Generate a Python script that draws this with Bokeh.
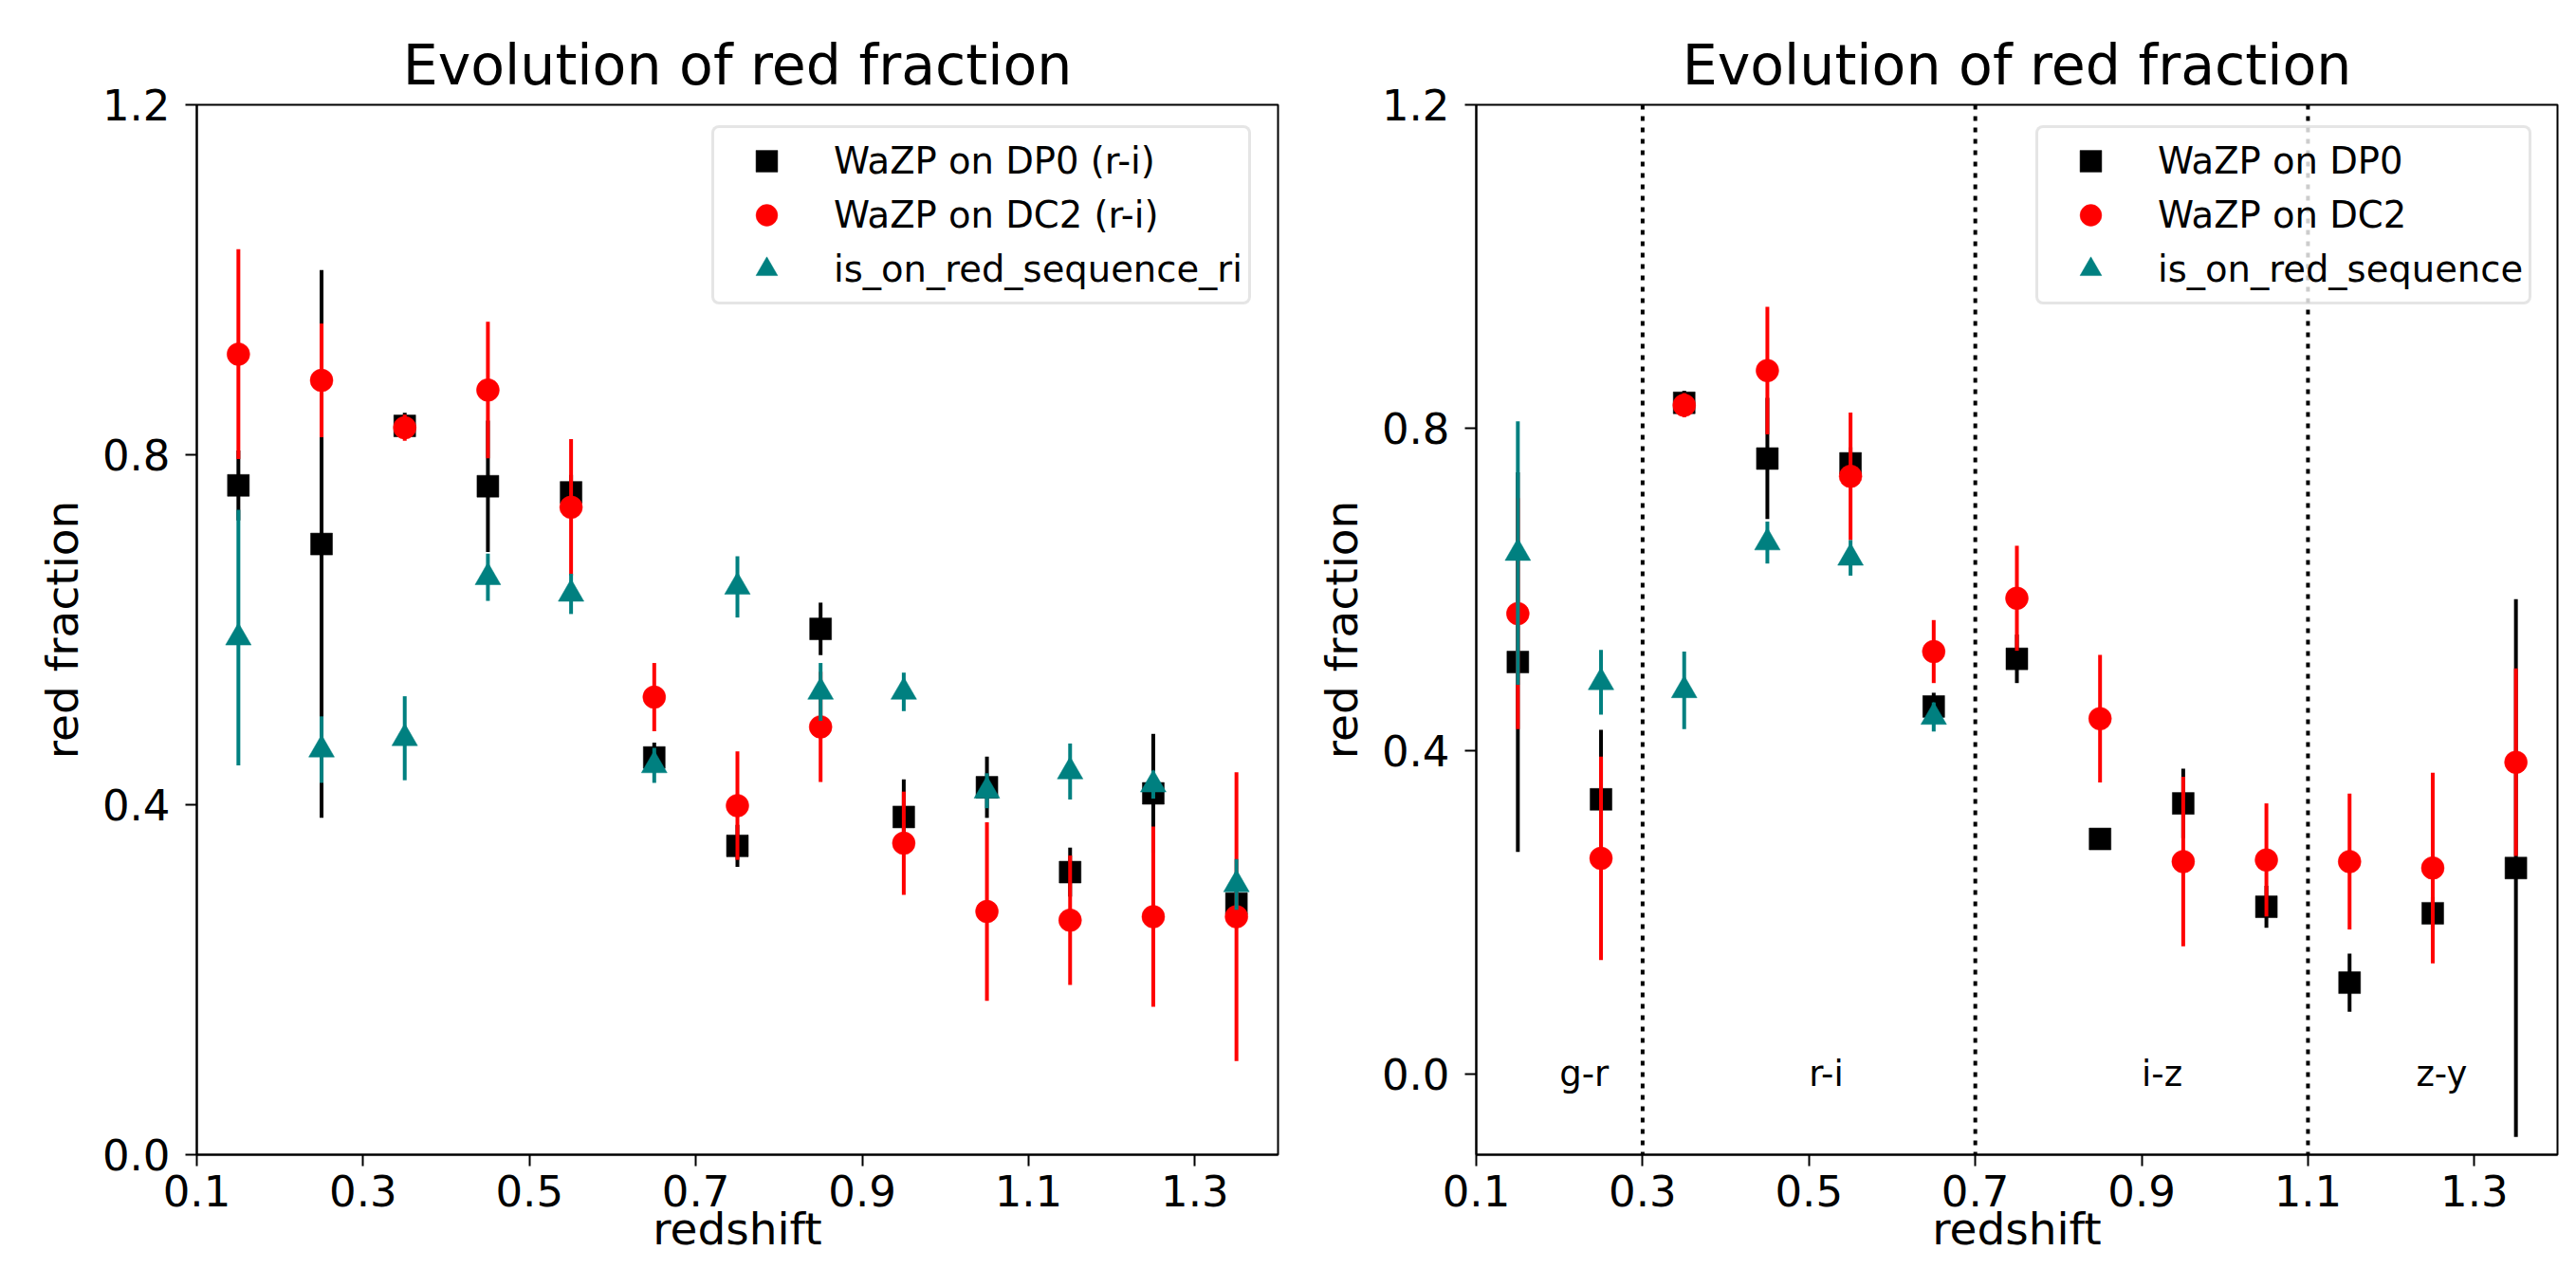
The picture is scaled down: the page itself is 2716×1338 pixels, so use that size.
from bokeh.plotting import figure
from bokeh.layouts import row
from bokeh.models import (Span, FixedTicker, NumeralTickFormatter, Range1d,
                          Legend, LegendItem)
from bokeh.embed import file_html
from bokeh.resources import INLINE
from bokeh.core.properties import value

FONT = "DejaVu Sans"

# ---------------- data ----------------
redshift = [0.15, 0.25, 0.35, 0.45, 0.55, 0.65, 0.75, 0.85, 0.95, 1.05, 1.15, 1.25, 1.35]

# left panel: r-i colour everywhere
dp0_ri = [0.765, 0.698, 0.833, 0.764, 0.757, 0.454, 0.353, 0.601, 0.386, 0.420, 0.323, 0.413, 0.287]
dp0_ri_err = [0.040, 0.313, 0.015, 0.075, 0.020, 0.017, 0.024, 0.030, 0.043, 0.035, 0.028, 0.068, 0.020]
dc2_ri = [0.915, 0.885, 0.831, 0.874, 0.740, 0.523, 0.399, 0.489, 0.356, 0.278, 0.268, 0.272, 0.272]
dc2_ri_err = [0.120, 0.065, 0.015, 0.078, 0.078, 0.039, 0.062, 0.063, 0.059, 0.102, 0.074, 0.103, 0.165]
rs_ri = [0.591, 0.463, 0.476, 0.660, 0.641, 0.445, 0.649, 0.529, 0.529, 0.416, 0.438, 0.423, 0.309]
rs_ri_err = [0.146, 0.038, 0.048, 0.027, 0.023, 0.020, 0.035, 0.033, 0.022, 0.020, 0.032, 0.016, 0.029]

# right panel: colour changes with redshift
dp0 = [0.510, 0.340, 0.831, 0.762, 0.756, 0.455, 0.514, 0.291, 0.335, 0.207, 0.113, 0.199, 0.255]
dp0_err = [0.235, 0.086, 0.015, 0.075, 0.020, 0.017, 0.030, 0.006, 0.043, 0.026, 0.036, 0.020, 0.333]
dc2 = [0.570, 0.267, 0.828, 0.871, 0.740, 0.523, 0.589, 0.440, 0.263, 0.265, 0.263, 0.255, 0.386]
dc2_err = [0.143, 0.126, 0.015, 0.079, 0.079, 0.039, 0.065, 0.079, 0.105, 0.070, 0.084, 0.118, 0.116]
rs_redshift = [0.15, 0.25, 0.35, 0.45, 0.55, 0.65]
rs = [0.645, 0.485, 0.475, 0.658, 0.639, 0.442]
rs_err = [0.163, 0.040, 0.048, 0.026, 0.022, 0.018]

band_edges = [0.3, 0.7, 1.1]
band_labels = ["g-r", "r-i", "i-z", "z-y"]
band_label_x = [0.2, 0.5, 0.9, 1.23]
band_label_y = [0.0, 0.0, 0.0, 0.0]

x_ticks = [0.1, 0.3, 0.5, 0.7, 0.9, 1.1, 1.3]
y_ticks = [0.0, 0.4, 0.8, 1.2]

BLACK = "#000000"
RED = "#ff0000"
TEAL = "#008080"


def style_axes(p):
    p.xgrid.visible = False
    p.ygrid.visible = False
    p.outline_line_color = "black"
    p.outline_line_width = 2
    p.outline_line_alpha = 1
    p.title.text_font = FONT
    p.title.text_font_size = "58.5px"
    p.title.text_font_style = "normal"
    p.title.align = "center"
    p.title.text_color = "black"
    p.title.standoff = 15
    for ax in (p.xaxis[0], p.yaxis[0]):
        ax.axis_line_color = "black"
        ax.axis_line_width = 2
        ax.major_tick_line_color = "black"
        ax.major_tick_line_width = 2
        ax.major_tick_out = 12
        ax.major_tick_in = 0
        ax.minor_tick_line_color = None
        ax.major_label_text_font = FONT
        ax.major_label_text_font_size = "45px"
        ax.major_label_text_color = "black"
        ax.axis_label_text_font = FONT
        ax.axis_label_text_font_size = "47px"
        ax.axis_label_text_font_style = "normal"
        ax.axis_label_text_color = "black"
        ax.formatter = NumeralTickFormatter(format="0.0")
    p.xaxis[0].ticker = FixedTicker(ticks=x_ticks)
    p.yaxis[0].ticker = FixedTicker(ticks=y_ticks)
    p.xaxis[0].axis_label = "redshift"
    p.yaxis[0].axis_label = "red fraction"
    p.xaxis[0].major_label_standoff = 9
    p.xaxis[0].axis_label_standoff = -7
    p.yaxis[0].major_label_standoff = 16
    p.yaxis[0].axis_label_standoff = 12


def errbars(p, x, y, err, color):
    lo = [v - e for v, e in zip(y, err)]
    hi = [v + e for v, e in zip(y, err)]
    p.segment(x0=x, y0=lo, x1=x, y1=hi, line_color=color, line_width=4)


def make_panel(width, left_border, right_border, y0, series, labels, leg_x):
    p = figure(width=width, height=1338,
               x_range=Range1d(0.1, 1.4), y_range=Range1d(y0, 1.2),
               output_backend="svg", toolbar_location=None,
               min_border_left=left_border, min_border_right=right_border,
               min_border_top=110, min_border_bottom=121,
               title="Evolution of red fraction")
    style_axes(p)
    items = []
    for (x, y, err, color, marker, size), lab in zip(series, labels):
        errbars(p, x, y, err, color)
        r = p.scatter(x=x, y=y, marker=marker, size=size,
                      fill_color=color, line_color=color, line_width=0.5)
        items.append(LegendItem(label=lab, renderers=[r]))
    leg = Legend(items=items, location=(leg_x, 896))
    leg.label_text_font = FONT
    leg.label_text_font_size = "38.5px"
    leg.label_text_color = "black"
    leg.glyph_width = 98
    leg.glyph_height = 57
    leg.label_standoff = 22
    leg.padding = 6
    leg.spacing = 0
    leg.margin = 0
    leg.border_line_color = "#cccccc"
    leg.border_line_width = 3
    leg.background_fill_color = "white"
    leg.background_fill_alpha = 0.8
    if "border_radius" in Legend.properties():
        leg.border_radius = 8
    p.add_layout(leg)
    return p


left_series = [
    (redshift, dp0_ri, dp0_ri_err, BLACK, "square", 23),
    (redshift, dc2_ri, dc2_ri_err, RED, "circle", 24),
    (redshift, rs_ri, rs_ri_err, TEAL, "triangle", 27),
]
left_labels = ["WaZP on DP0 (r-i)", "WaZP on DC2 (r-i)", "is_on_red_sequence_ri"]

right_series = [
    (redshift, dp0, dp0_err, BLACK, "square", 23),
    (redshift, dc2, dc2_err, RED, "circle", 24),
    (rs_redshift, rs, rs_err, TEAL, "triangle", 27),
]
right_labels = ["WaZP on DP0", "WaZP on DC2", "is_on_red_sequence"]

p1 = make_panel(1357, 207, 10, 0.0, left_series, left_labels, 543)
p2 = make_panel(1351, 199, 12, -0.1, right_series, right_labels, 590)

for xe in band_edges:
    p2.add_layout(Span(location=xe, dimension="height", line_color="black",
                       line_width=4, line_dash="5 7"))

p2.text(x=band_label_x, y=band_label_y, text=band_labels,
        text_font=value(FONT), text_font_size="37px", text_color="black",
        text_align="left", text_baseline="alphabetic")

layout = row(p1, p2)
open("out.html", "w").write(file_html(layout, INLINE))
